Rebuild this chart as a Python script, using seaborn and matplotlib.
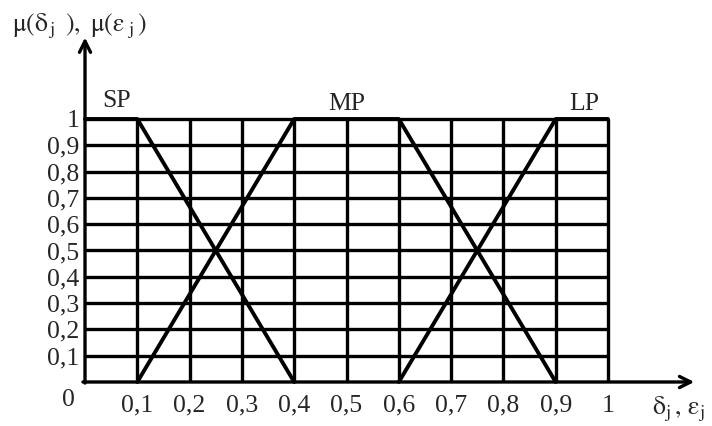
import matplotlib
matplotlib.use("Agg")
import matplotlib.pyplot as plt
import numpy as np
import pandas as pd
import seaborn as sns

# membership functions (breakpoints)
sp_x = [0.0, 0.1, 0.4]
sp_y = [1.0, 1.0, 0.0]
mp_x = [0.1, 0.4, 0.6, 0.9]
mp_y = [0.0, 1.0, 1.0, 0.0]
lp_x = [0.6, 0.9, 1.0]
lp_y = [0.0, 1.0, 1.0]

names = ['SP', 'MP', 'LP']
name_pos = [(0.061, 1.07), (0.50, 1.057), (0.954, 1.057)]

ticks = [0.1, 0.2, 0.3, 0.4, 0.5, 0.6, 0.7, 0.8, 0.9, 1.0]
tick_labels = ['0,1', '0,2', '0,3', '0,4', '0,5', '0,6', '0,7', '0,8', '0,9', '1']

df = pd.concat([
    pd.DataFrame({'x': sp_x, 'mu': sp_y, 'set': 'SP'}),
    pd.DataFrame({'x': mp_x, 'mu': mp_y, 'set': 'MP'}),
    pd.DataFrame({'x': lp_x, 'mu': lp_y, 'set': 'LP'}),
])

sns.set_style("white")
plt.rcParams['font.family'] = ['Liberation Serif', 'DejaVu Serif']
plt.rcParams['mathtext.fontset'] = 'stix'

fig = plt.figure(figsize=(7.12, 4.26), dpi=100)
ax = fig.add_axes([85/712, 44/426, 523/712, 263/426])

lw = 2.4
# grid
ax.vlines(ticks, 0, 1, color='black', lw=lw, clip_on=False, zorder=1)
ax.hlines(ticks, 0, 1, color='black', lw=lw, clip_on=False, zorder=1)

sns.lineplot(data=df, x='x', y='mu', hue='set', units='set', estimator=None,
             sort=False, palette={'SP': 'black', 'MP': 'black', 'LP': 'black'},
             lw=2.8, legend=False, ax=ax, clip_on=False, zorder=3)

ax.set_xlim(0, 1)
ax.set_ylim(0, 1)
for s in ['top', 'right', 'left', 'bottom']:
    ax.spines[s].set_visible(False)

# axes with arrows
ax.annotate('', xy=(0, 1.31), xytext=(0, -0.004), annotation_clip=False,
            arrowprops=dict(arrowstyle='->', lw=lw, color='black',
                            mutation_scale=20, shrinkA=0, shrinkB=0))
ax.annotate('', xy=(1.165, 0), xytext=(-0.004, 0), annotation_clip=False,
            arrowprops=dict(arrowstyle='->', lw=lw, color='black',
                            mutation_scale=20, shrinkA=0, shrinkB=0))

fs = 18.5
ax.set_xticks(ticks)
ax.set_xticklabels(tick_labels, fontsize=fs)
ax.set_yticks(ticks)
ax.set_yticklabels(tick_labels, fontsize=fs)
ax.tick_params(axis='both', length=0)
ax.tick_params(axis='x', pad=9)
ax.tick_params(axis='y', pad=4)
ax.set_xlabel('')
ax.set_ylabel('')

ax.text(-0.02, -0.025, '0', fontsize=fs, ha='right', va='top')

for n, (px, py) in zip(names, name_pos):
    ax.text(px, py, n, fontsize=fs, ha='center', va='center')

fig.text(12/712, 1 - 31/426,
         r'$\mathrm{\mu(\delta_{\,j}\ \,),\ \mu(\varepsilon_{\ j}\,)}$',
         fontsize=fs, ha='left', va='baseline')
fig.text(652/712, 1 - 414/426, r'$\mathrm{\delta_{j}\,,\,\varepsilon_{j}}$',
         fontsize=fs, ha='left', va='baseline')

fig.savefig('out.png', dpi=100)
